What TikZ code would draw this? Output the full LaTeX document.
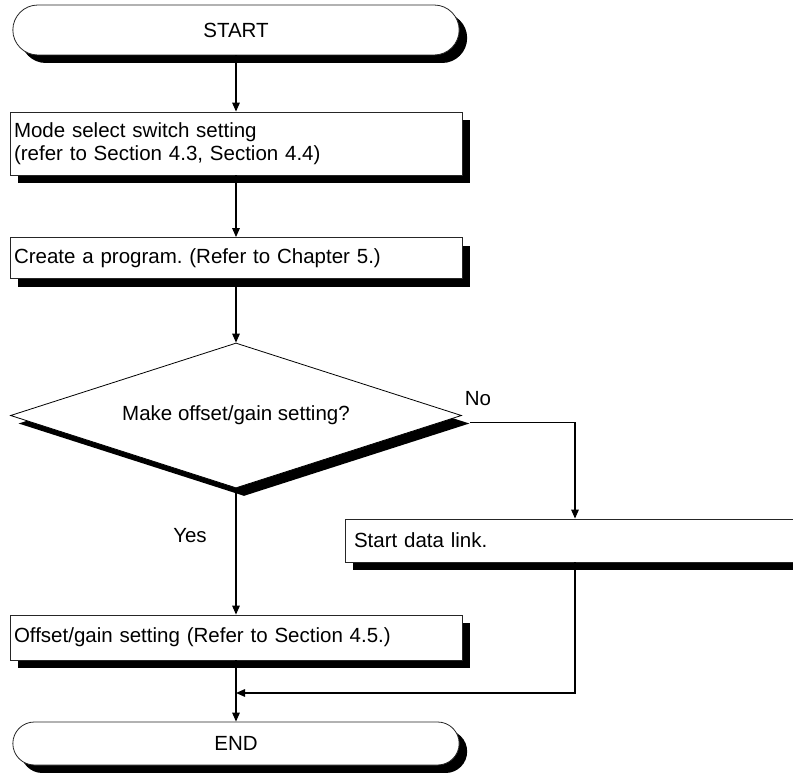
\documentclass[tikz,border=0pt]{standalone}
\usepackage{fontspec}
\setmainfont{Liberation Sans}
\frenchspacing
\usetikzlibrary{shapes.misc,shapes.geometric,shadows,arrows.meta}

\tikzset{
  flowshadow/.style={drop shadow={shadow xshift=8pt,shadow yshift=-8pt,opacity=1,fill=black}},
  termbox/.style={rounded rectangle,draw=black!85,line width=0.8pt,fill=white,minimum width=453pt,minimum height=50pt,flowshadow},
  stepbox/.style={rectangle,draw=black!85,line width=0.8pt,fill=white,text width=444pt,inner xsep=4pt,align=left,flowshadow},
  decbox/.style={diamond,aspect=3.1,draw=black,line width=0.8pt,fill=white,minimum width=451pt,minimum height=145pt,inner sep=0pt,flowshadow},
  flowline/.style={line width=1.4pt}
}

\begin{document}
\begin{tikzpicture}[x=1pt,y=-1pt,font=\fontsize{20.5}{23.5}\selectfont,>={Triangle[length=9pt,width=7.5pt]}]
\useasboundingbox (0,0) rectangle (793,773);

% boxes
\path (236,30) node[termbox] (start) {START};
\path (236,143.5) node[stepbox,minimum height=63pt] (mode) {Mode select switch setting\\(refer to Section 4.3, Section 4.4)};
\path (236,258) node[stepbox,minimum height=41pt] (prog) {Create a program. (Refer to Chapter 5.)};
\path (236,415.5) node[decbox] (ask) {Make offset/gain setting?};
\path (575,540.5) node[stepbox,text width=442pt,inner xsep=9pt,minimum height=43pt] (link) {Start data link.};
\path (236,637.5) node[stepbox,minimum height=45pt] (gain) {Offset/gain setting (Refer to Section 4.5.)};
\path (236,743.5) node[termbox,minimum height=43pt] (end) {END};

% labels
\path (478,399) node (no) {No};
\path (190,536) node (yes) {Yes};
\coordinate (join) at (236,693);

% lines
\draw[flowline,->] (start.south) -- (mode.north);
\draw[flowline,->] (mode.south) -- (prog.north);
\draw[flowline,->] (prog.south) -- (ask.north);
\draw[flowline,->] (ask.south) -- (gain.north);
\draw[flowline,->] ([xshift=8pt,yshift=-7pt]ask.east) -| (link.north);
\draw[flowline,->] (link.south) |- (join);
\draw[flowline,->] (gain.south) -- (end.north);
\end{tikzpicture}
\end{document}
